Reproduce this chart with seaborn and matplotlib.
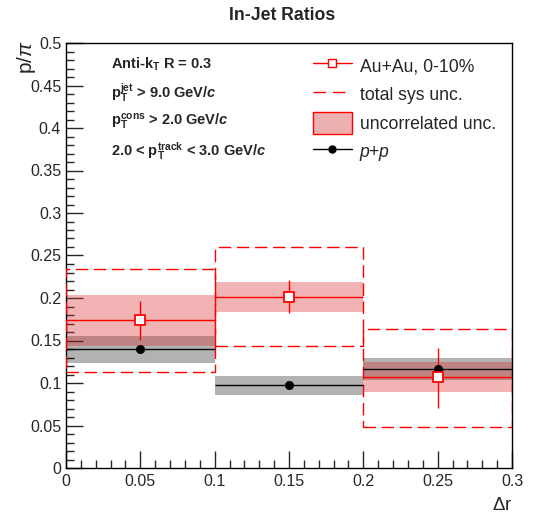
import numpy as np
import pandas as pd
import matplotlib
matplotlib.use("Agg")
import matplotlib.pyplot as plt
import seaborn as sns
from matplotlib.lines import Line2D
from matplotlib.patches import Patch, Rectangle
from matplotlib.ticker import MultipleLocator, FormatStrFormatter

# ---- data ----
bin_lo = [0.0, 0.1, 0.2]
bin_hi = [0.1, 0.2, 0.3]
dr = [0.05, 0.15, 0.25]
auau = [0.174, 0.201, 0.107]
auau_stat_up = [0.197, 0.221, 0.141]
auau_stat_lo = [0.151, 0.182, 0.071]
auau_unc_up = [0.203, 0.219, 0.125]
auau_unc_lo = [0.143, 0.183, 0.089]
auau_sys_up = [0.234, 0.260, 0.164]
auau_sys_lo = [0.113, 0.143, 0.048]
pp = [0.140, 0.098, 0.117]
pp_unc_up = [0.155, 0.108, 0.129]
pp_unc_lo = [0.124, 0.086, 0.103]

sns.set_style("ticks")
plt.rcParams['font.family'] = ['Liberation Sans', 'DejaVu Sans']
plt.rcParams['mathtext.fontset'] = 'custom'
plt.rcParams['mathtext.rm'] = 'Liberation Sans'
plt.rcParams['mathtext.it'] = 'Liberation Sans:italic'
plt.rcParams['mathtext.bf'] = 'Liberation Sans:bold'
plt.rcParams['mathtext.bfit'] = 'Liberation Sans:bold:italic'

fig = plt.figure(figsize=(5.39, 5.18), dpi=100)
ax = fig.add_axes([66/539, 1-468/518, (512-66)/539, (468-43)/518])

red = '#ff0000'
pink = (0.93, 0.69, 0.69)

# gray pp uncertainty bands
for i in range(3):
    ax.add_patch(Rectangle((bin_lo[i], pp_unc_lo[i]), bin_hi[i]-bin_lo[i],
                           pp_unc_up[i]-pp_unc_lo[i], facecolor='black', alpha=0.3,
                           edgecolor='none', zorder=1))
# red uncorrelated bands
for i in range(3):
    ax.add_patch(Rectangle((bin_lo[i], auau_unc_lo[i]), bin_hi[i]-bin_lo[i],
                           auau_unc_up[i]-auau_unc_lo[i], facecolor=(0.85, 0.2, 0.2), alpha=0.37,
                           edgecolor='none', zorder=2))
# sys boxes
for i in range(3):
    ax.add_patch(Rectangle((bin_lo[i], auau_sys_lo[i]), bin_hi[i]-bin_lo[i],
                           auau_sys_up[i]-auau_sys_lo[i], facecolor='none',
                           edgecolor=red, linestyle=(0, (9, 4)), linewidth=1.0, zorder=3))

xerr = [0.05, 0.05, 0.05]
# pp horizontal lines
ax.errorbar(dr, pp, xerr=xerr, fmt='none', ecolor='black', elinewidth=1.0, capsize=0, zorder=4)
# AuAu lines
yerr = [np.array(auau) - np.array(auau_stat_lo), np.array(auau_stat_up) - np.array(auau)]
ax.errorbar(dr, auau, xerr=xerr, yerr=yerr, fmt='none', ecolor=red, elinewidth=1.0, capsize=0, zorder=5)

df_pp = pd.DataFrame({'dr': dr, 'ratio': pp})
df_au = pd.DataFrame({'dr': dr, 'ratio': auau})
sns.scatterplot(data=df_pp, x='dr', y='ratio', ax=ax, color='black', marker='o', s=36,
                edgecolor='black', zorder=6, legend=False)
sns.scatterplot(data=df_au, x='dr', y='ratio', ax=ax, marker='s', s=55, facecolor='white',
                edgecolor=red, linewidth=1.3, zorder=7, legend=False)

ax.set_xlim(0, 0.3)
ax.set_ylim(0, 0.5)
ax.xaxis.set_major_locator(MultipleLocator(0.05))
ax.xaxis.set_minor_locator(MultipleLocator(0.01))
ax.yaxis.set_major_locator(MultipleLocator(0.05))
ax.yaxis.set_minor_locator(MultipleLocator(0.01))
ax.xaxis.set_major_formatter(FormatStrFormatter('%g'))
ax.yaxis.set_major_formatter(FormatStrFormatter('%g'))
ax.tick_params(which='major', direction='in', length=12, width=1, labelsize=11.5, top=False, right=False)
ax.tick_params(which='minor', direction='in', length=6, width=1, top=False, right=False)
ax.tick_params(axis='x', pad=4)
for s in ax.spines.values():
    s.set_linewidth(1.0)
    s.set_color('black')

ax.set_xlabel(r'$\Delta$r', fontsize=13.5, ha='right', va='center')
ax.xaxis.set_label_coords(1.0, -(505-468)/425)
ax.set_ylabel(r'p/$\pi$', fontsize=15, ha='right', va='center')
ax.yaxis.set_label_coords(-(66-27)/446, 1.0 + 3/425)
fig.text(282/539, 1-15/518, 'In-Jet Ratios', fontsize=12.7, fontweight='bold',
         ha='center', va='center')

# annotation texts
tx = (111-66)/446
fs = 10.5
ax.text(tx, (468-64)/425, r'Anti-k$_{\mathbf{T}}$ R = 0.3', transform=ax.transAxes,
        fontsize=fs, fontweight='bold', va='center', ha='left')
ax.text(tx, (468-93)/425, r'$\mathbf{p}_{\mathbf{T}}^{\mathbf{jet}}$ > 9.0 GeV/$\mathbfit{c}$',
        transform=ax.transAxes, fontsize=fs, fontweight='bold', va='center', ha='left')
ax.text(tx, (468-122)/425, r'$\mathbf{p}_{\mathbf{T}}^{\mathbf{cons}}$ > 2.0 GeV/$\mathbfit{c}$',
        transform=ax.transAxes, fontsize=fs, fontweight='bold', va='center', ha='left')
ax.text(tx, (468-151)/425, r'2.0 < $\mathbf{p}_{\mathbf{T}}^{\mathbf{track}}$ < 3.0 GeV/$\mathbfit{c}$',
        transform=ax.transAxes, fontsize=fs, fontweight='bold', va='center', ha='left')

handles = [
    Line2D([], [], color=red, lw=1.0, marker='s', markersize=6, markerfacecolor='white',
           markeredgecolor=red),
    Line2D([], [], color=red, lw=1.0, linestyle=(0, (9, 5))),
    Patch(facecolor=pink, edgecolor=red, linewidth=1.0),
    Line2D([], [], color='black', lw=1.0, marker='o', markersize=5),
]
labels = ['Au+Au, 0-10%', 'total sys unc.', 'uncorrelated unc.', 'p+p']
leg = ax.legend(handles, labels, loc='upper left', bbox_to_anchor=((306-66)/446, (468-48)/425),
                frameon=False, fontsize=12.7, handlelength=2.2, handleheight=1.5,
                labelspacing=0.4, handletextpad=0.45, borderaxespad=0)
leg.get_texts()[3].set_fontstyle('italic')

fig.savefig('out.png', dpi=100)
